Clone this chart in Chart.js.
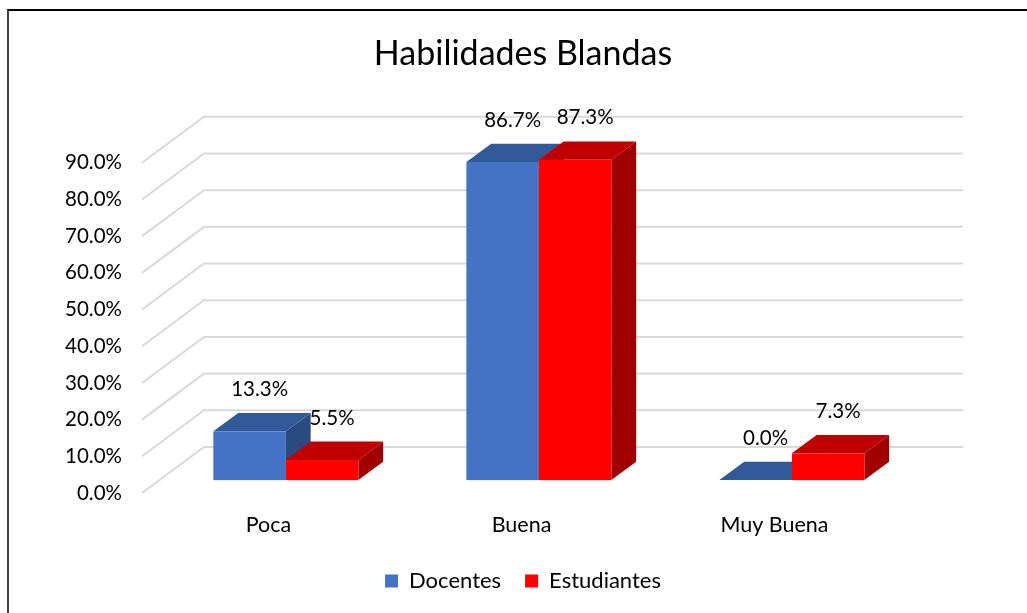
<!DOCTYPE html>
<html><head><meta charset="utf-8">
<script src="https://cdn.jsdelivr.net/npm/chart.js@4"></script>
<style>
html,body{margin:0;padding:0;background:#fff;}
#wrap{position:relative;width:1027px;height:613px;overflow:hidden;}
#frame{position:absolute;left:7px;top:9px;width:1100px;height:700px;border-top:2px solid #000;border-left:2px solid #404040;}
canvas{position:absolute;left:0;top:0;}
</style></head><body>
<div id="wrap"><div id="frame"></div><canvas id="c" width="1027" height="613"></canvas></div>
<script>
const categories = ['Poca', 'Buena', 'Muy Buena'];
const docentes = [13.3, 86.7, 0.0];
const estudiantes = [5.5, 87.3, 7.3];
const seriesNames = ['Docentes', 'Estudiantes'];
const yTicksMax = 90;
const yTickStep = 10;

const faceColors = [
  {front:'#4472C4', top:'#335A98', side:'#2B4B80'},
  {front:'#FF0000', top:'#C00000', side:'#A00000'}
];
const WALL_DX = 62, WALL_DY = -46;
const BAR_FRONT = 0.28, BAR_DEPTH = 0.4;
const FONT = 'Lato';

function poly(ctx, pts){
  ctx.beginPath();
  ctx.moveTo(pts[0][0], pts[0][1]);
  for (let k=1;k<pts.length;k++) ctx.lineTo(pts[k][0], pts[k][1]);
  ctx.closePath(); ctx.fill();
}

const threeD = {
  id:'threeD',
  beforeDatasetsDraw(chart){
    const ctx = chart.ctx, ys = chart.scales.y, area = chart.chartArea;
    ctx.save();
    ctx.strokeStyle = '#D9D9D9'; ctx.lineWidth = 2;
    ys.ticks.forEach(t => {
      const y = ys.getPixelForValue(t.value);
      ctx.beginPath();
      ctx.moveTo(area.left, y);
      ctx.lineTo(area.left + WALL_DX, y + WALL_DY);
      ctx.lineTo(area.right + WALL_DX, y + WALL_DY);
      ctx.stroke();
    });
    const ox0 = WALL_DX*BAR_FRONT, oy0 = WALL_DY*BAR_FRONT;
    const odx = WALL_DX*BAR_DEPTH, ody = WALL_DY*BAR_DEPTH;
    const labels = [];
    for (let i=0;i<categories.length;i++){
      chart.data.datasets.forEach((ds, di) => {
        const el = chart.getDatasetMeta(di).data[i];
        const l = el.x - el.width/2 + ox0, r = el.x + el.width/2 + ox0;
        const top = el.y + oy0, bot = el.base + oy0;
        const c = faceColors[di];
        ctx.fillStyle = c.side; poly(ctx, [[r,top],[r+odx,top+ody],[r+odx,bot+ody],[r,bot]]);
        ctx.fillStyle = c.top; poly(ctx, [[l,top],[l+odx,top+ody],[r+odx,top+ody],[r,top]]);
        ctx.fillStyle = c.front; ctx.fillRect(l, top, r-l, bot-top);
        labels.push({x:(l+r)/2 + 10, y: top - 42, t: ds.data[i].toFixed(1) + '%'});
      });
    }
    ctx.fillStyle = '#000';
    ctx.font = '20.5px ' + FONT;
    ctx.textAlign = 'center'; ctx.textBaseline = 'middle';
    labels.forEach(lb => ctx.fillText(lb.t, lb.x, lb.y));
    ctx.restore();
    return false;
  }
};

new Chart(document.getElementById('c'), {
  type:'bar',
  data:{
    labels: categories,
    datasets:[
      {label: seriesNames[0], data: docentes, backgroundColor: faceColors[0].front},
      {label: seriesNames[1], data: estudiantes, backgroundColor: faceColors[1].front}
    ]
  },
  options:{
    responsive:false,
    animation:false,
    devicePixelRatio:1,
    categoryPercentage:0.573,
    barPercentage:1,
    layout:{padding:{left:19, right:0, top:0, bottom:11}},
    plugins:{
      title:{display:true, text:'Habilidades Blandas', color:'#000',
        font:{family:FONT, size:34, weight:'normal'}, padding:{top:34, bottom:88}},
      legend:{position:'bottom', labels:{color:'#000', font:{family:FONT, size:22}, boxWidth:13, boxHeight:13, padding:24}},
      tooltip:{enabled:false}
    },
    scales:{
      x:{grid:{display:false, drawTicks:false}, border:{display:false},
        ticks:{color:'#000', font:{family:FONT, size:21.5}, padding:19},
        afterFit(s){ s.height = 53; }},
      y:{min:0, max:yTicksMax, grid:{display:false, drawTicks:false}, border:{display:false},
        ticks:{stepSize:yTickStep, color:'#000', font:{family:FONT, size:20.5}, padding:20,
          callback:v => Number(v).toFixed(1) + '%'},
        afterFit(s){ s.width = 123; }},
      y2:{type:'linear', position:'right', display:true, grid:{display:false, drawTicks:false}, border:{display:false},
        ticks:{display:false}, afterFit(s){ s.width = 126; }}
    }
  },
  plugins:[threeD]
});
</script>
</body></html>
